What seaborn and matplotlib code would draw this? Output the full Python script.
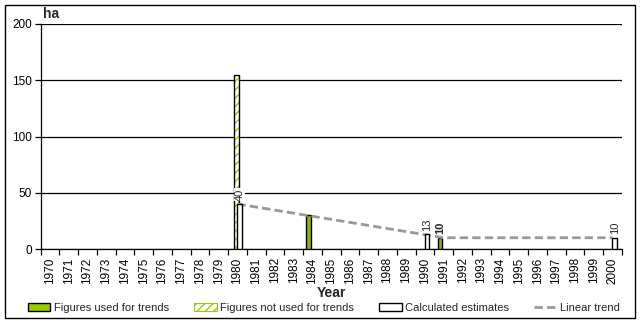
import matplotlib
matplotlib.use("Agg")
import matplotlib.pyplot as plt
import pandas as pd
import seaborn as sns
from matplotlib.patches import Patch, Rectangle
from matplotlib.lines import Line2D

# ---- data ----
years = [str(y) for y in range(1970, 2001)]
used_years = ["1984", "1991"]
used_values = [30, 10]
notused_years = ["1980"]
notused_values = [155]
est_years = ["1980", "1990", "2000"]
est_values = [40, 13, 10]
trend_years = ["1980", "1991", "2000"]
trend_values = [40, 10, 10]
series = ["Figures used for trends", "Figures not used for trends", "Calculated estimates"]
yticks = [0, 50, 100, 150, 200]

GREEN = "#99CC00"

rows = []
for y, v in zip(used_years, used_values):
    rows.append((y, series[0], v))
for y, v in zip(notused_years, notused_values):
    rows.append((y, series[1], v))
for y, v in zip(est_years, est_values):
    rows.append((y, series[2], v))
df = pd.DataFrame(rows, columns=["year", "series", "value"])

sns.set_theme(style="white")
plt.rcParams["font.family"] = ["Liberation Sans", "DejaVu Sans"]
plt.rcParams["hatch.linewidth"] = 1.0

fig = plt.figure(figsize=(6.41, 3.24), dpi=100)
ax = fig.add_axes([40.5 / 641, 1 - 249 / 324, (622 - 40.5) / 641, (249 - 24) / 324])

palette = {series[0]: GREEN, series[1]: "white", series[2]: "white"}
sns.barplot(data=df, x="year", y="value", hue="series", order=years,
            hue_order=series, palette=palette, width=0.75, dodge=True,
            edgecolor="black", linewidth=1.0, ax=ax, legend=False, zorder=3)

# Excel-like overlapping group layout: nudge each series slightly
nudge = {series[0]: 0.04, series[1]: -0.05, series[2]: -0.14}
for container, s in zip(ax.containers, series):
    for p in container.patches:
        p.set_x(p.get_x() + nudge[s])
        if s == series[2]:
            p.set_zorder(5)
        if s == series[1] and p.get_height() > 0:
            p.set_facecolor("white")
            p.set_hatch("////")
            p.set_edgecolor(GREEN)
            p.set_linewidth(0)
            ax.add_patch(Rectangle((p.get_x(), p.get_y()), p.get_width(), p.get_height(),
                                   fill=False, edgecolor="black", linewidth=1.0, zorder=4))

# data labels
for container, s in zip(ax.containers, series):
    for p in container.patches:
        h = p.get_height()
        if h <= 0 or s == series[1]:
            continue
        if s == series[0] and h >= 30:
            continue
        bold = s == series[0]
        ax.text(p.get_x() + p.get_width() / 2, h + 3, f"{int(h)}", rotation=90,
                ha="center", va="bottom", fontsize=8,
                fontweight="bold" if bold else "normal", zorder=6,
                bbox=dict(facecolor="white", edgecolor="none", pad=0.3))

# linear trend
tx = [years.index(y) for y in trend_years]
sns.lineplot(x=tx, y=trend_values, ax=ax, color="#999999", linewidth=2,
             linestyle=(0, (3, 1.5)), zorder=4)

ax.set_xlim(-0.5, len(years) - 0.5)
ax.set_ylim(0, 200)
ax.set_yticks(yticks)
ax.set_yticklabels([str(v) for v in yticks], fontsize=8.5)
ax.set_xticks(range(len(years)))
ax.set_xticklabels(years, rotation=90, fontsize=8.5)
ax.set_xticks([i - 0.5 for i in range(len(years) + 1)], minor=True)
ax.tick_params(axis="x", which="both", bottom=True)
ax.tick_params(axis="y", which="both", left=True)
ax.tick_params(axis="x", which="major", length=0, pad=6)
ax.tick_params(axis="x", which="minor", length=4, width=0.9, color="black", direction="out")
ax.tick_params(axis="y", which="major", length=4, width=0.9, color="black", direction="out", pad=2)
ax.tick_params(colors="black")

ax.grid(axis="y", color="black", linewidth=0.9)
ax.set_axisbelow(True)
for side in ["top", "right"]:
    ax.spines[side].set_visible(False)
for side in ["left", "bottom"]:
    ax.spines[side].set_color("black")
    ax.spines[side].set_linewidth(0.9)

ax.set_xlabel("")
ax.set_ylabel("")
fig.text(331 / 641, 1 - 293 / 324, "Year", ha="center", va="center",
         fontsize=10, fontweight="bold")
fig.text(43 / 641, 1 - 14 / 324, "ha", ha="left", va="center",
         fontsize=10, fontweight="bold")

handles = [
    Patch(facecolor=GREEN, edgecolor="black", linewidth=1.0),
    Patch(facecolor="white", edgecolor=GREEN, hatch="////", linewidth=0.8),
    Patch(facecolor="white", edgecolor="black", linewidth=1.0),
    Line2D([], [], color="#999999", linewidth=2, linestyle=(0, (3, 1.5))),
]
fig.legend(handles, series + ["Linear trend"], loc="center", ncol=4,
           bbox_to_anchor=(324 / 641, 1 - 308 / 324), frameon=False, fontsize=8,
           handlelength=2.0, handleheight=0.7, handletextpad=0.3, columnspacing=2.3,
           borderpad=0, borderaxespad=0)

fig.patches.append(Rectangle((5 / 641, 1 - 318 / 324), 630 / 641, 313 / 324,
                             transform=fig.transFigure, fill=False,
                             edgecolor="black", linewidth=1))

fig.savefig("out.png", dpi=100)
